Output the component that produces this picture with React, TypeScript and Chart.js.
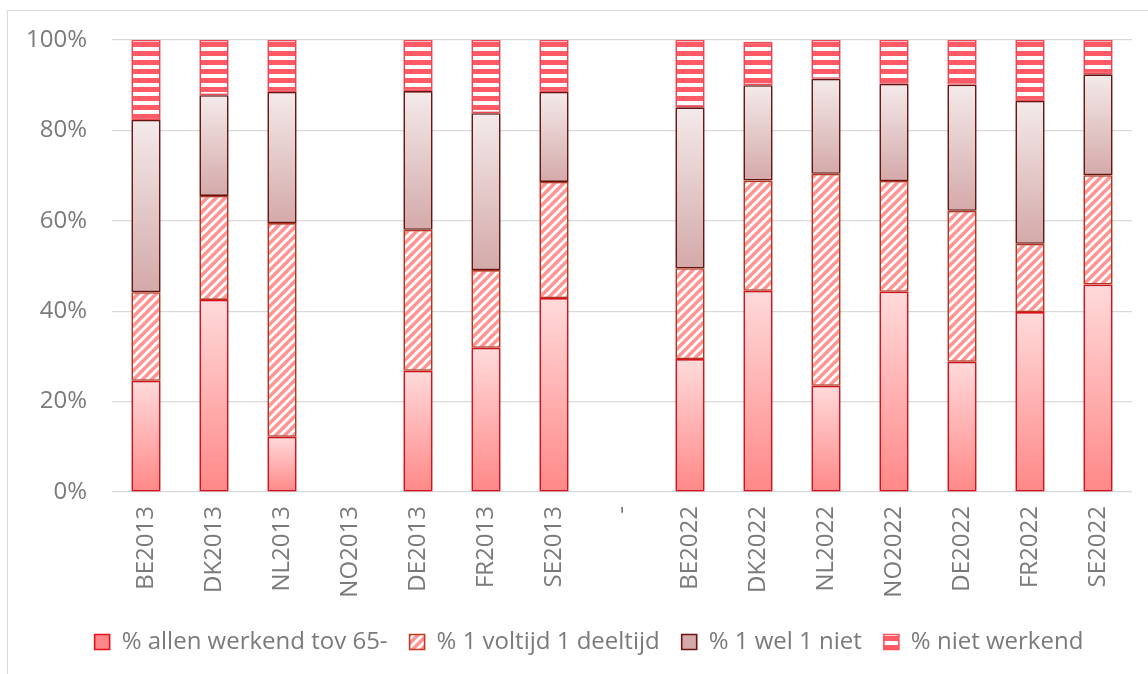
import React, { useEffect, useRef } from "react";
import { Chart, registerables } from "chart.js";

Chart.register(...registerables);

const categories = [
  "BE2013", "DK2013", "NL2013", "NO2013", "DE2013", "FR2013", "SE2013", "-",
  "BE2022", "DK2022", "NL2022", "NO2022", "DE2022", "FR2022", "SE2022",
];

const seriesNames = [
  "% allen werkend tov 65-",
  "% 1 voltijd 1 deeltijd",
  "% 1 wel 1 niet",
  "% niet werkend",
];

const allenWerkend = [24.6, 42.5, 12.2, null, 26.8, 31.9, 42.9, null, 29.4, 44.5, 23.5, 44.3, 28.8, 39.8, 45.9];
const voltijdDeeltijd = [19.6, 23.0, 47.3, null, 31.2, 17.2, 25.7, null, 20.1, 24.4, 46.9, 24.5, 33.4, 15.1, 24.2];
const welNiet = [38.1, 22.3, 29.0, null, 30.7, 34.7, 19.9, null, 35.6, 21.1, 21.0, 21.5, 27.9, 31.6, 22.3];
const nietWerkend = [17.7, 12.2, 11.5, null, 11.3, 16.2, 11.5, null, 14.9, 9.6, 8.6, 9.7, 9.9, 13.5, 7.6];

const yTicks = [0, 20, 40, 60, 80, 100];

const seriesValues = [allenWerkend, voltijdDeeltijd, welNiet, nietWerkend];

const FONT = "'Open Sans', sans-serif";
const TEXT = "#7a7a7a";
const FS = 24;

function makeDiagPattern(): CanvasPattern | string {
  const T = 9;
  const c = document.createElement("canvas");
  c.width = T;
  c.height = T;
  const g = c.getContext("2d");
  if (!g) return "#ffb0b0";
  g.fillStyle = "#ffffff";
  g.fillRect(0, 0, T, T);
  g.strokeStyle = "#ff9494";
  g.lineWidth = 3.6;
  for (const o of [-T, 0, T]) {
    g.beginPath();
    g.moveTo(o - 1, T + 1);
    g.lineTo(o + T + 1, -1);
    g.stroke();
  }
  const p = g.createPattern(c, "repeat");
  return p || "#ffb0b0";
}

function makeHorizPattern(): CanvasPattern | string {
  const T = 9;
  const c = document.createElement("canvas");
  c.width = T;
  c.height = T;
  const g = c.getContext("2d");
  if (!g) return "#ff5a65";
  g.fillStyle = "#ff5a65";
  g.fillRect(0, 0, T, T);
  g.fillStyle = "#ffffff";
  g.fillRect(0, 2, T, 4);
  const p = g.createPattern(c, "repeat");
  return p || "#ff5a65";
}

function gradientFill(dsIndex: number, topColor: string, bottomColor: string, mid: string) {
  return (ctx: any) => {
    if (ctx.type !== "data") return mid;
    const chart = ctx.chart;
    const ys = chart.scales && chart.scales.y;
    if (!ys) return mid;
    const j = ctx.dataIndex;
    let base = 0;
    for (let k = 0; k < dsIndex; k++) base += (seriesValues[k][j] as number) || 0;
    const v = (seriesValues[dsIndex][j] as number) || 0;
    const y0 = ys.getPixelForValue(base + v);
    const y1 = ys.getPixelForValue(base);
    if (!isFinite(y0) || !isFinite(y1) || y0 === y1) return mid;
    const g = chart.ctx.createLinearGradient(0, y0, 0, y1);
    g.addColorStop(0, topColor);
    g.addColorStop(1, bottomColor);
    return g;
  };
}

const shadowPlugin = {
  id: "barShadow",
  beforeDatasetsDraw(chart: any) {
    const c = chart.ctx;
    c.save();
    c.shadowColor = "rgba(0,0,0,0.22)";
    c.shadowBlur = 4;
    c.shadowOffsetX = 0;
    c.shadowOffsetY = 0;
  },
  afterDatasetsDraw(chart: any) {
    chart.ctx.restore();
  },
};

const legendShiftPlugin = {
  id: "legendShift",
  afterLayout(chart: any) {
    const l = chart.legend;
    if (l) {
      l.left += 23;
      l.right += 23;
    }
  },
};

export default function App() {
  const canvasRef = useRef<HTMLCanvasElement | null>(null);

  useEffect(() => {
    if (!canvasRef.current) return;
    const diag = makeDiagPattern();
    const horiz = makeHorizPattern();

    const common = {
      borderWidth: 1.6,
      borderSkipped: false as const,
      barPercentage: 0.43,
      categoryPercentage: 1,
    };

    const chart = new Chart(canvasRef.current, {
      type: "bar",
      data: {
        labels: categories,
        datasets: [
          {
            label: seriesNames[0],
            data: allenWerkend,
            backgroundColor: gradientFill(0, "#ffdada", "#ff8888", "#ffcaca"),
            borderColor: "#e8101c",
            ...common,
          },
          {
            label: seriesNames[1],
            data: voltijdDeeltijd,
            backgroundColor: diag,
            borderColor: "#c4381f",
            ...common,
          },
          {
            label: seriesNames[2],
            data: welNiet,
            backgroundColor: gradientFill(2, "#f4eaea", "#d4a9a9", "#e8d6d6"),
            borderColor: "#6e1410",
            ...common,
          },
          {
            label: seriesNames[3],
            data: nietWerkend,
            backgroundColor: horiz,
            borderColor: "#ff4f5c",
            ...common,
          },
        ],
      } as any,
      options: {
        animation: false,
        responsive: true,
        maintainAspectRatio: false,
        layout: { padding: { left: 0, right: 16, top: 40, bottom: 10 } },
        plugins: {
          legend: {
            position: "bottom",
            labels: {
              boxWidth: 15,
              boxHeight: 15,
              padding: 22,
              color: TEXT,
              font: { family: FONT, size: FS },
            },
          },
          tooltip: { enabled: false },
        },
        scales: {
          x: {
            stacked: true,
            grid: { display: false, drawTicks: false },
            border: { display: false },
            ticks: {
              autoSkip: false,
              maxRotation: 90,
              minRotation: 90,
              padding: 14,
              color: TEXT,
              font: { family: FONT, size: FS },
            },
            afterFit: (s: any) => {
              s.height = 116;
            },
          },
          y: {
            stacked: true,
            min: 0,
            max: 100,
            afterBuildTicks: (s: any) => {
              s.ticks = yTicks.map((v) => ({ value: v }));
            },
            grid: { color: "#d9d9d9", lineWidth: 1.2, drawTicks: false },
            border: { display: false },
            ticks: {
              padding: 25,
              color: TEXT,
              font: { family: FONT, size: FS },
              callback: (v: any) => v + "%",
            },
            afterFit: (s: any) => {
              s.width = 112;
            },
          },
        },
      },
      plugins: [shadowPlugin, legendShiftPlugin],
    } as any);

    return () => chart.destroy();
  }, []);

  return (
    <div>
      <div
        style={{
          position: "fixed",
          left: 7,
          top: 10,
          width: 1141,
          height: 664,
          borderLeft: "1.5px solid #d9d9d9",
          borderTop: "1.5px solid #d9d9d9",
          boxSizing: "border-box",
        }}
      />
      <div style={{ position: "fixed", left: 0, top: 0, width: 1148, height: 674 }}>
        <canvas ref={canvasRef} />
      </div>
    </div>
  );
}
